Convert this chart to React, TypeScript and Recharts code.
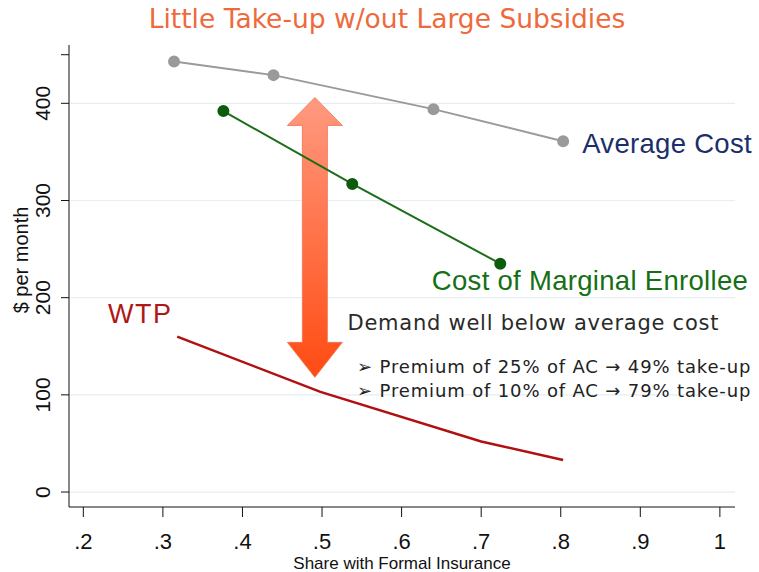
import React from 'react';
import { LineChart, Line, XAxis, YAxis, CartesianGrid, ReferenceDot, ReferenceLine, Label } from 'recharts';

const acX = [0.314, 0.439, 0.64, 0.803];
const acY = [443, 429, 394, 361];
const mcX = [0.376, 0.538, 0.724];
const mcY = [392, 317, 235];
const wtpX = [0.318, 0.498, 0.7, 0.803];
const wtpY = [160, 103, 52, 33];
const xTicks = [0.2, 0.3, 0.4, 0.5, 0.6, 0.7, 0.8, 0.9, 1];
const yTicks = [0, 100, 200, 300, 400, 450];
const yLabeled = [0, 100, 200, 300, 400];

const toRows = (xs: number[], ys: number[]) => xs.map((x, i) => ({ x, y: ys[i] }));
const acData = toRows(acX, acY);
const mcData = toRows(mcX, mcY);
const wtpData = toRows(wtpX, wtpY);

const SANS = '"Liberation Sans", Arial, sans-serif';
const GOTHIC = '"DejaVu Sans", sans-serif';

const fmtX = (v: number) => (v === 1 ? '1' : String(v).replace(/^0/, ''));

const YTick = (p: any) => {
  const { x, y, payload } = p;
  if (!yLabeled.includes(payload.value)) return null;
  const tx = x - 9;
  return (
    <text x={tx} y={y} transform={`rotate(-90 ${tx} ${y})`} textAnchor="middle" fontSize={21} fill="#111" fontFamily={SANS}>
      {payload.value}
    </text>
  );
};

const XTick = (p: any) => {
  const { x, y, payload } = p;
  return (
    <text x={x} y={y + 30} textAnchor="middle" fontSize={22} fill="#111" fontFamily={SANS}>
      {fmtX(payload.value)}
    </text>
  );
};

const TextAt = (txt: string, color: string, size: number, family: string, spacing = 0) => (p: any) => (
  <text x={p.cx} y={p.cy} fontSize={size} fill={color} fontFamily={family} letterSpacing={spacing}>
    {txt}
  </text>
);

const ArrowShape = (p: any) => {
  const { x1, y1, x2, y2 } = p;
  const cx = (x1 + x2) / 2;
  const top = Math.min(y1, y2);
  const bot = Math.max(y1, y2);
  const hw = 27.5;
  const sw = 12.5;
  const hh = 28;
  const pts = [
    [cx, top],
    [cx + hw, top + hh],
    [cx + sw, top + hh],
    [cx + sw, bot - hh - 7],
    [cx + hw, bot - hh - 7],
    [cx, bot],
    [cx - hw, bot - hh - 7],
    [cx - sw, bot - hh - 7],
    [cx - sw, top + hh],
    [cx - hw, top + hh],
  ]
    .map((q) => q.join(','))
    .join(' ');
  return (
    <g>
      <defs>
        <linearGradient id="arrowGrad" x1="0" y1="0" x2="0" y2="1">
          <stop offset="0%" stopColor="#ff9a80" />
          <stop offset="100%" stopColor="#ff4b12" />
        </linearGradient>
      </defs>
      <polygon points={pts} fill="url(#arrowGrad)" stroke="#f07050" strokeWidth={0.8} />
    </g>
  );
};

export default function App() {
  return (
    <div style={{ position: 'absolute', left: 0, top: 0, width: 759, height: 572, background: '#fff' }}>
      <div
        style={{
          position: 'absolute',
          left: 0,
          top: 3,
          width: 774,
          textAlign: 'center',
          fontFamily: GOTHIC,
          fontSize: 26.5,
          color: '#ee6a3c',
          whiteSpace: 'nowrap',
        }}
      >
        Little Take-up w/out Large Subsidies
      </div>
      <LineChart width={759} height={572} margin={{ top: 45, right: 24, bottom: 0, left: 0 }}>
        <CartesianGrid horizontal vertical={false} horizontalValues={yLabeled} stroke="#e4eef3" strokeWidth={1.2} />
        <XAxis
          type="number"
          dataKey="x"
          domain={[0.182, 1.019]}
          ticks={xTicks}
          tick={<XTick />}
          tickSize={10}
          height={65}
          stroke="#111"
          tickLine={{ stroke: '#111' }}
          allowDuplicatedCategory={false}
        >
          <Label
            content={(p: any) => {
              const vb = p.viewBox;
              return (
                <text x={vb.x + vb.width / 2} y={vb.y + 62} textAnchor="middle" fontSize={17} fill="#111" fontFamily={SANS}>
                  Share with Formal Insurance
                </text>
              );
            }}
          />
        </XAxis>
        <YAxis
          type="number"
          dataKey="y"
          domain={[-15.4, 460]}
          ticks={yTicks}
          tick={<YTick />}
          tickSize={8}
          width={69}
          stroke="#111"
          tickLine={{ stroke: '#111' }}
        >
          <Label
            content={(p: any) => {
              const vb = p.viewBox;
              const x = 28;
              const y = vb.y + vb.height / 2 - 16;
              return (
                <text x={x} y={y} transform={`rotate(-90 ${x} ${y})`} textAnchor="middle" fontSize={20} fill="#111" fontFamily={SANS}>
                  $ per month
                </text>
              );
            }}
          />
        </YAxis>
        <ReferenceLine segment={[{ x: 0.491, y: 406 }, { x: 0.491, y: 118 }]} shape={<ArrowShape />} ifOverflow="visible" />
        <Line data={acData} dataKey="y" stroke="#9a9a9a" strokeWidth={2} dot={{ r: 5, fill: '#9a9a9a', stroke: '#9a9a9a' }} isAnimationActive={false} />
        <Line data={mcData} dataKey="y" stroke="#1a6e1a" strokeWidth={2} dot={{ r: 5, fill: '#0d5c0d', stroke: '#0d5c0d' }} isAnimationActive={false} />
        <Line data={wtpData} dataKey="y" stroke="#b01010" strokeWidth={2.5} dot={false} isAnimationActive={false} />
        <ReferenceDot x={0.827} y={349} shape={TextAt('Average Cost', '#1b2f6b', 27.5, SANS, 0.3)} ifOverflow="visible" />
        <ReferenceDot x={0.638} y={208} shape={TextAt('Cost of Marginal Enrollee', '#157015', 27.5, SANS, 0.3)} ifOverflow="visible" />
        <ReferenceDot x={0.231} y={174} shape={TextAt('WTP', '#b01818', 27, SANS, 1.5)} ifOverflow="visible" />
        <ReferenceDot x={0.532} y={167} shape={TextAt('Demand well below average cost', '#2a2a2a', 21, GOTHIC, 0.75)} ifOverflow="visible" />
        <ReferenceDot x={0.544} y={122} shape={TextAt('➢ Premium of 25% of AC → 49% take-up', '#222', 18, GOTHIC, 0.85)} ifOverflow="visible" />
        <ReferenceDot x={0.544} y={97.5} shape={TextAt('➢ Premium of 10% of AC → 79% take-up', '#222', 18, GOTHIC, 0.85)} ifOverflow="visible" />
      </LineChart>
    </div>
  );
}
